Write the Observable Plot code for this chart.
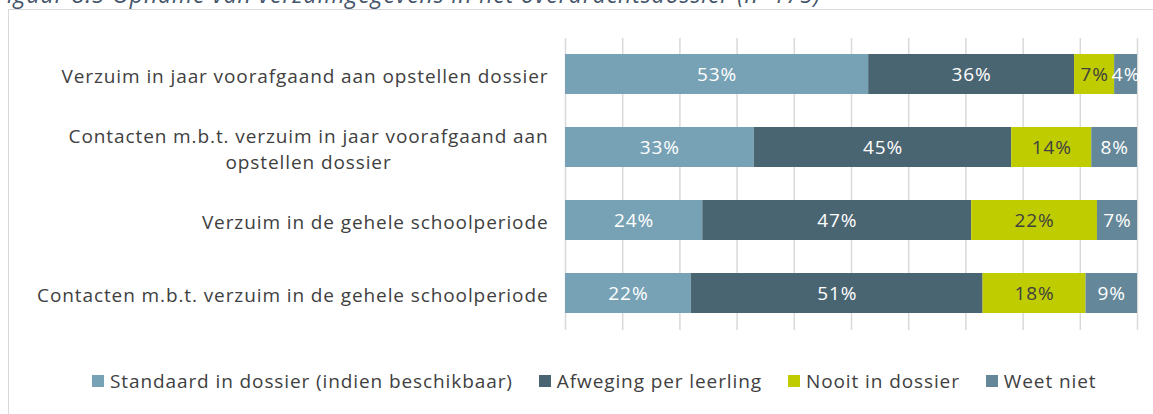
<!DOCTYPE html>
<html>
<head>
<meta charset="utf-8">
<script src="https://cdn.jsdelivr.net/npm/d3@7"></script>
<script src="https://cdn.jsdelivr.net/npm/@observablehq/plot@0.6"></script>
<style>
  html, body { margin: 0; padding: 0; background: #fff; width: 1153px; height: 414px; overflow: hidden; }
  body { position: relative; font-family: "Open Sans", sans-serif; color: #404040; }
  #title { position: absolute; left: -5px; top: -22px; font-style: italic; font-size: 23px; letter-spacing: 0.9px; color: #44546A; white-space: nowrap; }
  #frame { position: absolute; left: 8px; top: 9px; width: 1200px; height: 500px; border: 1.5px solid #d9d9d9; box-sizing: border-box; }
  #chart { position: absolute; left: 0; top: 0; }
  #legend { position: absolute; left: 92px; top: 368px; display: flex; font-size: 19px; letter-spacing: 0.9px; color: #404040; }
  #legend .item { display: flex; align-items: center; margin-right: 26px; }
  #legend .sw { width: 12px; height: 12px; margin-right: 6px; }
</style>
</head>
<body>
<div id="title">Figuur 8.5 Opname van verzuimgegevens in het overdrachtsdossier (n=175)</div>
<div id="frame"></div>
<div id="chart"></div>
<div id="legend"></div>
<script>
const categories = [
  "Verzuim in jaar voorafgaand aan opstellen dossier",
  "Contacten m.b.t. verzuim in jaar voorafgaand aan\nopstellen dossier",
  "Verzuim in de gehele schoolperiode",
  "Contacten m.b.t. verzuim in de gehele schoolperiode"
];
const seriesNames = ["Standaard in dossier (indien beschikbaar)", "Afweging per leerling", "Nooit in dossier", "Weet niet"];
const seriesColors = ["#77A2B5", "#4A6572", "#BFCC00", "#648899"];
const standaard = [53, 33, 24, 22];
const afweging = [36, 45, 47, 51];
const nooit = [7, 14, 22, 18];
const weetNiet = [4, 8, 7, 9];
const xTicks = [0, 10, 20, 30, 40, 50, 60, 70, 80, 90, 100];

const seriesValues = [standaard, afweging, nooit, weetNiet];
const data = [];
categories.forEach((c, i) => {
  seriesNames.forEach((s, j) => data.push({cat: c, series: s, value: seriesValues[j][i]}));
});

const darkLabel = "Nooit in dossier";
const font = "'Open Sans', sans-serif";

const plot = Plot.plot({
  width: 1153,
  height: 350,
  marginTop: 38,
  marginBottom: 20,
  marginLeft: 565,
  marginRight: 16,
  style: {fontFamily: font, background: "transparent", letterSpacing: "0.9px"},
  x: {domain: [0, 100], axis: null},
  y: {domain: categories, paddingInner: 0.452, paddingOuter: 0.226, axis: null},
  color: {domain: seriesNames, range: seriesColors},
  marks: [
    Plot.gridX(xTicks, {stroke: "#d9d9d9", strokeOpacity: 1, strokeWidth: 1.5}),
    Plot.barX(data, Plot.stackX({x: "value", y: "cat", fill: "series", order: seriesNames})),
    Plot.text(data, Plot.stackX({x: "value", y: "cat", z: "series", order: seriesNames,
      text: d => d.series === darkLabel ? "" : d.value + "%", fill: "white", fontSize: 19})),
    Plot.text(data, Plot.stackX({x: "value", y: "cat", z: "series", order: seriesNames,
      text: d => d.series === darkLabel ? d.value + "%" : "", fill: "#404040", fontSize: 19})),
    Plot.axisY({tickSize: 0, tickPadding: 17, fontSize: 19, fill: "#404040", lineHeight: 1.35, textAnchor: "end", label: null})
  ]
});
document.getElementById("chart").appendChild(plot);

// center the wrapped (multi-line) category label, as in the original
plot.querySelectorAll("text").forEach(t => {
  const spans = t.querySelectorAll("tspan");
  if (spans.length > 1) {
    const w = spans[0].getComputedTextLength();
    t.setAttribute("text-anchor", "middle");
    spans.forEach(s => s.setAttribute("x", -w / 2));
  }
});

const legend = document.getElementById("legend");
seriesNames.forEach((s, i) => {
  const item = document.createElement("div");
  item.className = "item";
  const sw = document.createElement("div");
  sw.className = "sw";
  sw.style.background = seriesColors[i];
  const lab = document.createElement("span");
  lab.textContent = s;
  item.appendChild(sw);
  item.appendChild(lab);
  legend.appendChild(item);
});
</script>
</body>
</html>
